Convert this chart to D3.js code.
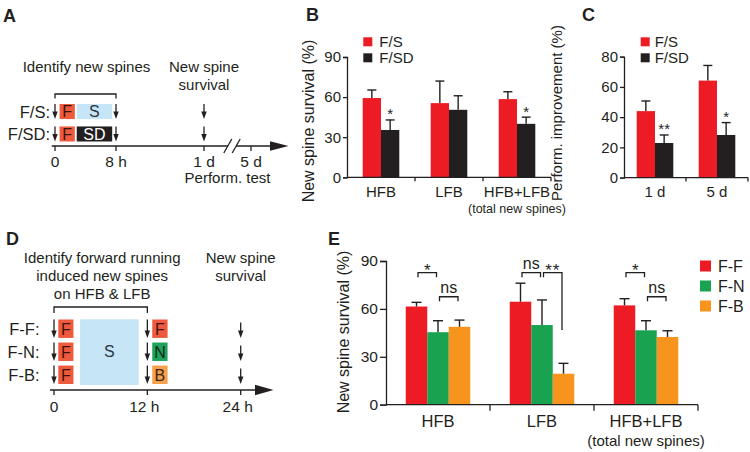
<!DOCTYPE html>
<html><head><meta charset="utf-8">
<script src="https://cdn.jsdelivr.net/npm/d3@7"></script>
<style>
body{margin:0;background:#fff}
svg{display:block;font-family:"Liberation Sans",Arial,Helvetica,sans-serif}
</style></head><body><svg id="c" width="750" height="452"></svg>
<script>
// ---------------- DATA ----------------
// Panel A (schematic timeline, hours)
const hoursA = [0, 8, 24, 120];
const tickLabelsA = ["0", "8 h", "1 d", "5 d"];
const rowsA = ["F/S:", "F/SD:"];
const blocksA = [
  {row: 0, start: 0.6, end: 2.6, label: "F", kind: "F"},
  {row: 0, start: 2.85, end: 7.5, label: "S", kind: "S"},
  {row: 1, start: 0.6, end: 2.6, label: "F", kind: "F"},
  {row: 1, start: 2.85, end: 7.5, label: "SD", kind: "SD"}
];
const arrowHoursA = [0, 8, 24];

// Panel B
const catsB = ["HFB", "LFB", "HFB+LFB"];
const seriesB = ["F/S", "F/SD"];
const meanB_FS = [59.3, 55.5, 58.5];
const semB_FS = [6.0, 16.5, 5.5];
const meanB_FSD = [35.4, 50.5, 40.0];
const semB_FSD = [7.5, 10.5, 5.0];
const sigB = ["*", "", "*"];
const ticksB = [0, 30, 60, 90];

// Panel C
const catsC = ["1 d", "5 d"];
const meanC_FS = [44.0, 64.2];
const semC_FS = [6.7, 10.0];
const meanC_FSD = [22.9, 28.2];
const semC_FSD = [5.3, 8.2];
const sigC = ["**", "*"];
const ticksC = [0, 20, 40, 60, 80];

// Panel D (schematic timeline, hours)
const hoursD = [0, 12, 24];
const tickLabelsD = ["0", "12 h", "24 h"];
const rowsD = ["F-F:", "F-N:", "F-B:"];
const endBoxD = ["F", "N", "B"];
const arrowHoursD = [0, 12, 24];

// Panel E
const catsE = ["HFB", "LFB", "HFB+LFB"];
const seriesE = ["F-F", "F-N", "F-B"];
const meanE_FF = [61.5, 64.5, 62.2];
const semE_FF = [2.6, 11.6, 4.2];
const meanE_FN = [45.4, 49.9, 46.6];
const semE_FN = [7.2, 15.7, 6.0];
const meanE_FB = [48.8, 19.4, 42.4];
const semE_FB = [4.2, 6.5, 3.9];
const ticksE = [0, 30, 60, 90];
const bracketsE = [
  {cat: "HFB", from: 0, to: 1, y: 82.7, label: "*"},
  {cat: "HFB", from: 1, to: 2, y: 67.6, label: "ns"},
  {cat: "LFB", from: 0, to: 1, y: 82.7, label: "ns"},
  {cat: "LFB", from: 1, to: 2, y: 82.7, label: "**", dropTo: 46.8},
  {cat: "HFB+LFB", from: 0, to: 1, y: 82.7, label: "*"},
  {cat: "HFB+LFB", from: 1, to: 2, y: 67.6, label: "ns"}
];

// ---------------- STYLE ----------------
const ink = "#231f20";
const RED = "#ed1c24", BLACK = "#231f20", GREEN = "#19a24f", ORANGE = "#f7941d";
const boxFill = {F: "#ef5a3d", S: "#c6e6f8", SD: "#231f20", N: "#1fa25c", B: "#f6a04a"};
const boxText = {F: "#3b1410", S: "#2a3440", SD: "#ffffff", N: "#0e2a18", B: "#3b2410"};

const svg = d3.select("#c");

function text(g, x, y, s, size, anchor = "middle", extra = {}) {
  const t = g.append("text").attr("x", x).attr("y", y).attr("font-size", size)
    .attr("text-anchor", anchor).attr("fill", extra.fill || ink).text(s);
  if (extra.weight) t.attr("font-weight", extra.weight);
  return t;
}
function downArrow(g, x, yTop, yBot) {
  g.append("line").attr("x1", x).attr("x2", x).attr("y1", yTop).attr("y2", yBot - 5)
    .attr("stroke", ink).attr("stroke-width", 1.3);
  g.append("path").attr("d", `M${x - 2.7},${yBot - 7.5}L${x + 2.7},${yBot - 7.5}L${x},${yBot}Z`).attr("fill", ink);
}

// panel letters
[["A", 3, 22], ["B", 306, 21], ["C", 582, 21], ["D", 6, 245], ["E", 328, 245]].forEach(([l, x, y]) =>
  text(svg, x, y, l, 18, "start", {weight: "bold"}));

// ---------------- BAR PANEL HELPER ----------------
function barPanel(o) {
  const g = svg.append("g");
  const x = d3.scaleBand().domain(o.cats).range([o.x0, o.x1]);
  const y = d3.scaleLinear().domain([0, o.yMax]).range([o.yBase, o.yTopPx]);
  const ns = o.series.length;
  const cx = (ci, si) => x(o.cats[ci]) + x.bandwidth() / 2 + (si - (ns - 1) / 2) * o.barW;
  o.series.forEach((s, si) => {
    o.cats.forEach((c, ci) => {
      const m = o.means[si][ci];
      g.append("rect").attr("x", cx(ci, si) - o.barW / 2).attr("width", o.barW)
        .attr("y", y(m)).attr("height", y(0) - y(m)).attr("fill", o.colors[si]);
    });
  });
  o.series.forEach((s, si) => {
    o.cats.forEach((c, ci) => {
      const m = o.means[si][ci], e = o.sems[si][ci], xx = cx(ci, si);
      g.append("line").attr("x1", xx).attr("x2", xx).attr("y1", y(m)).attr("y2", y(m + e))
        .attr("stroke", ink).attr("stroke-width", 1.4);
      g.append("line").attr("x1", xx - o.capW / 2).attr("x2", xx + o.capW / 2)
        .attr("y1", y(m + e)).attr("y2", y(m + e)).attr("stroke", ink).attr("stroke-width", 1.4);
      if (o.sig && si === o.sigSeries && o.sig[ci]) {
        text(g, xx, y(m + e) - 0.5, o.sig[ci], o.sigSize);
      }
    });
  });
  // y axis
  const ya = g.append("g").attr("transform", `translate(${o.x0},0)`)
    .call(d3.axisLeft(y).tickValues(o.ticks).tickSize(o.tickSize).tickPadding(2));
  ya.selectAll("path,line").attr("stroke", ink).attr("stroke-width", 1.3);
  ya.selectAll("text").attr("font-size", o.tickFont).attr("fill", ink).attr("font-family", null);
  ya.attr("font-family", null);
  // x axis
  g.append("line").attr("x1", o.x0).attr("x2", o.x1).attr("y1", y(0)).attr("y2", y(0))
    .attr("stroke", ink).attr("stroke-width", 1.3);
  const bounds = o.cats.slice(1).map(c => x(c)).concat([o.x1]);
  bounds.forEach(b => g.append("line").attr("x1", b).attr("x2", b).attr("y1", y(0)).attr("y2", y(0) + o.tickSize)
    .attr("stroke", ink).attr("stroke-width", 1.3));
  o.cats.forEach((c, ci) => {
    const xc = x(c) + x.bandwidth() / 2;
    text(g, xc, y(0) + o.catDy, c, o.catFont);
    if (c === "HFB+LFB") text(g, xc, y(0) + o.catDy2, "(total new spines)", o.subFont);
  });
  // y title
  g.append("text").attr("transform", `translate(${o.titleX},${o.titleY}) rotate(-90)`)
    .attr("text-anchor", "middle").attr("font-size", o.titleFont).attr("fill", ink).text(o.title);
  // legend
  o.series.forEach((s, si) => {
    g.append("rect").attr("x", o.legX).attr("y", o.legY + si * o.legStep).attr("width", o.legSq).attr("height", o.legSq)
      .attr("fill", o.colors[si]);
    text(g, o.legX + o.legTx, o.legY + si * o.legStep + o.legSq + 0.5, s, o.legFont, "start");
  });
  return {g, x, y, cx};
}

// ---------------- PANEL B ----------------
barPanel({
  cats: catsB, series: seriesB, means: [meanB_FS, meanB_FSD], sems: [semB_FS, semB_FSD],
  colors: [RED, BLACK], yMax: 90, ticks: ticksB, x0: 347, x1: 551, yBase: 177.3, yTopPx: 57,
  barW: 18.3, capW: 9, sig: sigB, sigSeries: 1, sigSize: 15, tickSize: 4, tickFont: 15,
  catDy: 20, catDy2: 35.3, catFont: 15, subFont: 12.5,
  title: "New spine survival (%)", titleX: 314, titleY: 121, titleFont: 16,
  legX: 363.3, legY: 37.3, legStep: 16, legSq: 9, legTx: 16, legFont: 15
});

// ---------------- PANEL C ----------------
barPanel({
  cats: catsC, series: seriesB, means: [meanC_FS, meanC_FSD], sems: [semC_FS, semC_FSD],
  colors: [RED, BLACK], yMax: 80, ticks: ticksC, x0: 624, x1: 748, yBase: 177.6, yTopPx: 56.7,
  barW: 18.3, capW: 9, sig: sigC, sigSeries: 1, sigSize: 15, tickSize: 4, tickFont: 15,
  catDy: 19, catDy2: 34, catFont: 15, subFont: 12.5,
  title: "Perform. improvement (%)", titleX: 562, titleY: 113, titleFont: 15,
  legX: 640.7, legY: 37.3, legStep: 16, legSq: 9, legTx: 14, legFont: 15
});

// ---------------- PANEL E ----------------
const E = barPanel({
  cats: catsE, series: seriesE, means: [meanE_FF, meanE_FN, meanE_FB], sems: [semE_FF, semE_FN, semE_FB],
  colors: [RED, GREEN, ORANGE], yMax: 90, ticks: ticksE, x0: 386, x1: 698, yBase: 404.7, yTopPx: 261,
  barW: 21.5, capW: 10, sig: null, tickSize: 6, tickFont: 15.5,
  catDy: 22.6, catDy2: 41.3, catFont: 16.5, subFont: 15,
  title: "New spine survival (%)", titleX: 349, titleY: 332, titleFont: 16,
  legX: 700, legY: 260.5, legStep: 20, legSq: 11, legTx: 18, legFont: 16
});
bracketsE.forEach(b => {
  const ci = catsE.indexOf(b.cat);
  const xa = E.cx(ci, b.from) + 1.5, xb = E.cx(ci, b.to) - 1.5;
  const yy = E.y(b.y), legEnd = yy + 4.5;
  const yb = b.dropTo != null ? E.y(b.dropTo) : legEnd;
  E.g.append("path").attr("d", `M${xa},${legEnd}V${yy}H${xb}V${yb}`)
    .attr("fill", "none").attr("stroke", ink).attr("stroke-width", 1.3);
  const mid = (xa + xb) / 2;
  if (b.label === "ns") text(E.g, mid, yy - 3.8, "ns", 16);
  else text(E.g, mid, yy + 3, b.label, 17).attr("letter-spacing", b.label.length > 1 ? 1 : 0);
});

// ---------------- PANEL A ----------------
(function () {
  const g = svg.append("g");
  const x = d3.scaleLinear().domain(hoursA).range([55, 116, 204, 251]);
  const rows = d3.scaleBand().domain(rowsA).range([104, 141.5]).paddingInner(0.33);
  const axisY = 146;
  // headers
  text(g, (x(0) + x(8)) / 2 + 1, 71.7, "Identify new spines", 15);
  text(g, x(24), 71.7, "New spine", 15);
  text(g, x(24), 90, "survival", 15);
  g.append("path").attr("d", `M${x(0)},98.5V94H${x(8)}V98.5`).attr("fill", "none").attr("stroke", ink).attr("stroke-width", 1.3);
  // blocks
  blocksA.forEach(b => {
    const r = rows(rowsA[b.row]);
    g.append("rect").attr("x", x(b.start)).attr("width", x(b.end) - x(b.start))
      .attr("y", r).attr("height", rows.bandwidth()).attr("fill", boxFill[b.kind]);
    text(g, (x(b.start) + x(b.end)) / 2, r + rows.bandwidth() / 2 + 5.6, b.label, 16, "middle", {fill: boxText[b.kind]});
  });
  rowsA.forEach(rw => {
    const r = rows(rw);
    text(g, 50, r + rows.bandwidth() / 2 + 6, rw, 16.5, "end");
    arrowHoursA.forEach(h => downArrow(g, x(h), r, r + rows.bandwidth()));
  });
  // axis
  g.append("line").attr("x1", 51.7).attr("x2", 272).attr("y1", axisY).attr("y2", axisY).attr("stroke", ink).attr("stroke-width", 1.5);
  g.append("path").attr("d", `M270,${axisY - 4.7}L288.5,${axisY}L270,${axisY + 4.7}Z`).attr("fill", ink);
  hoursA.forEach((h, i) => {
    g.append("line").attr("x1", x(h)).attr("x2", x(h)).attr("y1", axisY).attr("y2", axisY + 5).attr("stroke", ink).attr("stroke-width", 1.3);
    text(g, x(h), 166.7, tickLabelsA[i], 15.5);
  });
  // axis break
  const bx = (x(24) + x(120)) / 2 + 4.5;
  g.append("rect").attr("x", bx - 4).attr("y", axisY - 3).attr("width", 8).attr("height", 6).attr("fill", "#fff");
  [-4.2, 4.2].forEach(d => g.append("line").attr("x1", bx + d - 4).attr("y1", axisY + 7)
    .attr("x2", bx + d + 4).attr("y2", axisY - 7).attr("stroke", ink).attr("stroke-width", 1.3));
  text(g, (x(24) + x(120)) / 2, 183.3, "Perform. test", 15);
})();

// ---------------- PANEL D ----------------
(function () {
  const g = svg.append("g");
  const x = d3.scaleLinear().domain([0, 24]).range([54, 240.7]);
  const rows = d3.scaleBand().domain(rowsD).range([319.5, 384]).paddingInner(0.2);
  const axisY = 390;
  const hc = (x(0) + x(12)) / 2 + 1.5;
  text(g, hc, 263, "Identify forward running", 15);
  text(g, hc, 281, "induced new spines", 15);
  text(g, hc, 299, "on HFB & LFB", 15);
  text(g, x(24), 263, "New spine", 15);
  text(g, x(24), 281, "survival", 15);
  g.append("path").attr("d", `M${x(0)},313V307H${x(12)}V313`).attr("fill", "none").attr("stroke", ink).attr("stroke-width", 1.3);
  // S block across rows
  g.append("rect").attr("x", x(3.35)).attr("width", x(10.9) - x(3.35)).attr("y", 319.3).attr("height", 65.7).attr("fill", boxFill.S);
  text(g, (x(3.35) + x(10.9)) / 2, rows(rowsD[1]) + rows.bandwidth() / 2 + 5.6, "S", 16, "middle", {fill: boxText.S});
  rowsD.forEach((rw, i) => {
    const r = rows(rw), h = rows.bandwidth();
    text(g, 39.5, r + h / 2 + 6, rw, 16.5, "end");
    g.append("rect").attr("x", x(0.55)).attr("width", x(2.5) - x(0.55)).attr("y", r).attr("height", h).attr("fill", boxFill.F);
    text(g, (x(0.55) + x(2.5)) / 2, r + h / 2 + 5.8, "F", 16, "middle", {fill: boxText.F});
    const k = endBoxD[i];
    g.append("rect").attr("x", x(12.63)).attr("width", x(14.6) - x(12.63)).attr("y", r).attr("height", h).attr("fill", boxFill[k]);
    text(g, (x(12.63) + x(14.6)) / 2, r + h / 2 + 5.8, k, 16, "middle", {fill: boxText[k]});
    arrowHoursD.forEach(hh => downArrow(g, x(hh), r + (hh === 24 ? 3 : 0), r + h));
  });
  g.append("line").attr("x1", 50).attr("x2", 257).attr("y1", axisY).attr("y2", axisY).attr("stroke", ink).attr("stroke-width", 1.5);
  g.append("path").attr("d", `M255,${axisY - 5.3}L273.5,${axisY}L255,${axisY + 5.3}Z`).attr("fill", ink);
  hoursD.forEach((h, i) => {
    g.append("line").attr("x1", x(h)).attr("x2", x(h)).attr("y1", axisY).attr("y2", axisY + 5).attr("stroke", ink).attr("stroke-width", 1.3);
    text(g, x(h) + (i > 0 ? -3 : 0), 411.7, tickLabelsD[i], 15.5);
  });
})();
</script></body></html>
